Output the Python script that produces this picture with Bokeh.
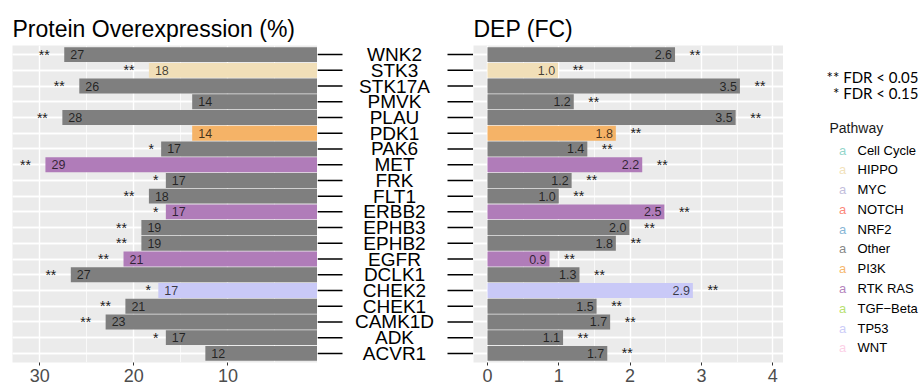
from bokeh.plotting import figure
from bokeh.models import (ColumnDataSource, FactorRange, Range1d, FixedTicker,
                          Grid, CategoricalTicker)
from bokeh.layouts import row
from bokeh.embed import file_html
from bokeh.resources import INLINE
from bokeh.core.properties import value

# ---------------- data ----------------
genes = ["WNK2", "STK3", "STK17A", "PMVK", "PLAU", "PDK1", "PAK6", "MET", "FRK", "FLT1",
         "ERBB2", "EPHB3", "EPHB2", "EGFR", "DCLK1", "CHEK2", "CHEK1", "CAMK1D", "ADK", "ACVR1"]
pathway = ["Other", "HIPPO", "Other", "Other", "Other", "PI3K", "Other", "RTK RAS", "Other", "Other",
           "RTK RAS", "Other", "Other", "RTK RAS", "Other", "TP53", "Other", "Other", "Other", "Other"]
overexpression = [27.4, 18.4, 25.8, 13.8, 27.6, 13.8, 17.1, 29.4, 16.6, 18.4,
                  16.6, 19.2, 19.2, 21.1, 26.7, 17.4, 20.9, 23.0, 16.6, 12.4]
overexp_sig = ["**", "**", "**", "", "**", "", "*", "**", "*", "**",
               "*", "**", "**", "**", "**", "*", "**", "**", "*", ""]
dep_fc = [2.63, 0.99, 3.54, 1.21, 3.48, 1.80, 1.40, 2.17, 1.18, 1.00,
          2.48, 1.99, 1.80, 0.87, 1.29, 2.88, 1.53, 1.72, 1.06, 1.68]
dep_sig = ["**"] * 20

pathways = ["Cell Cycle", "HIPPO", "MYC", "NOTCH", "NRF2", "Other", "PI3K",
            "RTK RAS", "TGF\u2212Beta", "TP53", "WNT"]
pathway_colors = ["#8DD3C7", "#F1DFB8", "#BEBADA", "#FB8072", "#80B1D3", "#7F7F7F",
                  "#F5B367", "#B07CB9", "#B3DE69", "#C9C9F7", "#FCCDE5"]
fdr_notes = ["** FDR < 0.05", "* FDR < 0.15"]

left_ticks = [10, 20, 30]
left_minor = [5, 15, 25]
right_ticks = [0, 1, 2, 3, 4]
right_minor = [0.5, 1.5, 2.5, 3.5]

# ---------------- styling ----------------
FONT = "Liberation Sans"
H = 388
TOP = 45
BOTTOM = 26
BG = "#EBEBEB"

cmap = {k.replace("\u2212", "-"): c for k, c in zip(pathways, pathway_colors)}

src = ColumnDataSource(dict(
    gene=genes,
    color=[cmap[p] for p in pathway],
    over=overexpression,
    over_lbl=[str(int(round(v))) for v in overexpression],
    over_sig=overexp_sig,
    over_off=[-20 if s == "**" else -10 for s in overexp_sig],
    dep=dep_fc,
    dep_lbl=["%.1f" % v for v in dep_fc],
    dep_sig=dep_sig,
))

yr = FactorRange(factors=list(reversed(genes)), range_padding=0.08,
                 range_padding_units="absolute")


def style_xaxis(p, ticks, minor):
    p.xaxis.ticker = FixedTicker(ticks=ticks, minor_ticks=minor)
    p.xaxis.axis_line_color = None
    p.xaxis.major_tick_line_color = "#333333"
    p.xaxis.major_tick_in = 0
    p.xaxis.major_tick_out = 3
    p.xaxis.minor_tick_line_color = None
    p.xaxis.major_label_text_font = FONT
    p.xaxis.major_label_text_font_size = "18px"
    p.xaxis.major_label_text_color = "#4D4D4D"
    p.xaxis.major_label_standoff = 2


def panel(title, width, xr, ticks, minor, bl, br):
    p = figure(width=width, height=H, x_range=xr, y_range=yr, title=title,
               output_backend="svg", toolbar_location=None, y_axis_location=None,
               min_border_left=bl, min_border_right=br, min_border_top=TOP,
               min_border_bottom=BOTTOM)
    p.background_fill_color = BG
    p.border_fill_color = "white"
    p.outline_line_color = None
    p.title.text_font = FONT
    p.title.text_font_size = "23px"
    p.title.text_font_style = "normal"
    p.title.text_color = "black"
    p.title.align = "left"
    p.title.vertical_align = "bottom"
    p.title.padding = 4
    p.title.offset = -4
    p.title.standoff = 0
    style_xaxis(p, ticks, minor)
    p.xgrid.grid_line_color = "white"
    p.xgrid.grid_line_width = 1.4
    p.xgrid.minor_grid_line_color = "white"
    p.xgrid.minor_grid_line_width = 0.7
    p.ygrid.grid_line_color = "white"
    p.ygrid.grid_line_width = 1.4
    p.add_layout(Grid(dimension=1, ticker=CategoricalTicker(),
                      grid_line_color="white", grid_line_width=1.4))
    return p


# ---------- left panel: protein overexpression ----------
pl = panel("Protein Overexpression (%)", 317, Range1d(32.9, 0.48),
           left_ticks, left_minor, 12, 0)
pl.hbar(y="gene", left=0, right="over", height=0.95, fill_color="color",
        line_color=None, source=src)
pl.text(x="over", y="gene", text="over_lbl", x_offset=6, text_align="left",
        text_baseline="middle", text_font=value(FONT), text_font_size="12.5px",
        text_color="black", text_alpha=0.72, source=src)
pl.text(x="over", y="gene", text="over_sig", x_offset="over_off", text_align="center",
        text_baseline="middle", text_font=value(FONT), text_font_size="14px",
        text_color="#1a1a1a", source=src)

# ---------- middle: gene labels ----------
pm = figure(width=156, height=H, x_range=Range1d(0, 156), y_range=yr,
            output_backend="svg", toolbar_location=None, y_axis_location=None,
            min_border_left=0, min_border_right=0, min_border_top=TOP,
            min_border_bottom=BOTTOM)
pm.outline_line_color = None
pm.background_fill_color = "white"
pm.grid.visible = False
style_xaxis(pm, [78], [])
pm.xaxis.major_label_overrides = {78: "0"}
pm.xaxis.major_label_text_alpha = 0
pm.xaxis.major_tick_line_alpha = 0
pm.segment(x0=0, x1=25, y0="gene", y1="gene", line_color="black",
           line_width=1.5, source=src)
pm.segment(x0=130, x1=156, y0="gene", y1="gene", line_color="black",
           line_width=1.5, source=src)
pm.text(x=77, y="gene", text="gene", text_align="center", text_baseline="middle",
        text_font=value(FONT), text_font_size="19px", text_color="black", source=src)

# ---------- right panel: DEP fold change ----------
pr = panel("DEP (FC)", 310, Range1d(-0.196, 4.151), right_ticks, right_minor, 0, 0)
pr.hbar(y="gene", left=0, right="dep", height=0.95, fill_color="color",
        line_color=None, source=src)
pr.text(x="dep", y="gene", text="dep_lbl", x_offset=-3, text_align="right",
        text_baseline="middle", text_font=value(FONT), text_font_size="12.5px",
        text_color="black", text_alpha=0.72, source=src)
pr.text(x="dep", y="gene", text="dep_sig", x_offset=20, text_align="center",
        text_baseline="middle", text_font=value(FONT), text_font_size="14px",
        text_color="#1a1a1a", source=src)

# ---------- legend ----------
pg = figure(width=140, height=H, x_range=Range1d(0, 140), y_range=Range1d(H, 0),
            output_backend="svg", toolbar_location=None, x_axis_location=None,
            y_axis_location=None, min_border=0)
pg.outline_line_color = None
pg.grid.visible = False
pg.text(x=[135, 135], y=[38, 58], text=fdr_notes, text_align="right",
        text_baseline="middle", text_font=value("Lato"), text_font_size="15px",
        text_color="black")
pg.text(x=[46], y=[101], text=["Pathway"], text_align="left", text_baseline="middle",
        text_font=value(FONT), text_font_size="14px", text_color="#1a1a1a")
leg_y = [128 + 24.2 * i for i in range(len(pathways))]
pg.text(x=[59] * len(pathways), y=leg_y, text=["a"] * len(pathways),
        text_color=pathway_colors, text_alpha=0.95, text_align="center",
        text_baseline="middle", text_font=value(FONT), text_font_size="13px")
pg.text(x=[74] * len(pathways), y=leg_y, text=pathways, text_align="left",
        text_baseline="middle", text_font=value(FONT), text_font_size="13px",
        text_color="black")

layout = row(pl, pm, pr, pg)
open("out.html", "w").write(file_html(layout, INLINE))
